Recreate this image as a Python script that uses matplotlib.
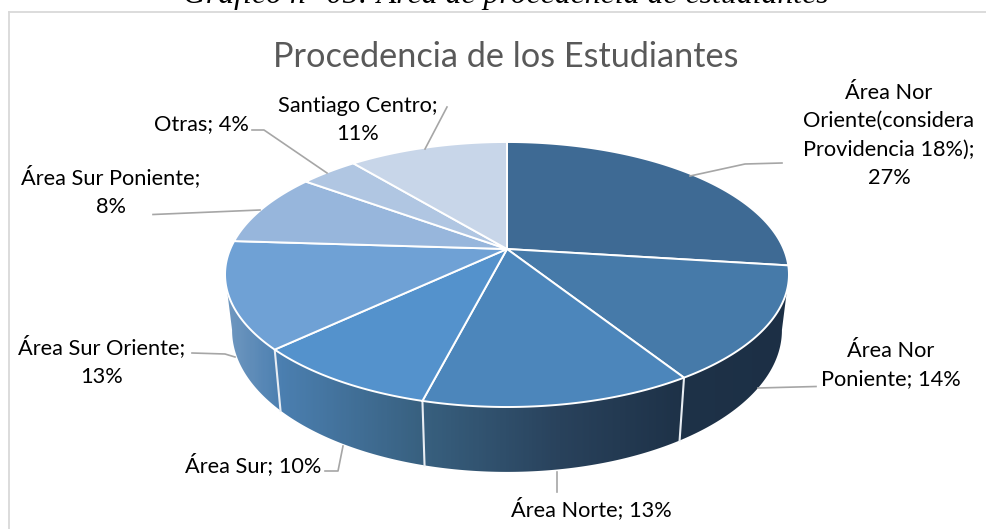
import numpy as np
import matplotlib
matplotlib.use('Agg')
import matplotlib.pyplot as plt
from matplotlib.patches import Polygon
from matplotlib.colors import LinearSegmentedColormap

categories = ['Área Nor Oriente', 'Área Nor Poniente', 'Área Norte', 'Área Sur',
              'Área Sur Oriente', 'Área Sur Poniente', 'Otras', 'Santiago Centro']
values = [27, 14, 13, 9, 13, 9, 4, 11]
colors = ['#3e6a94', '#467aa9', '#4c86bb', '#5492cc', '#6fa1d5', '#97b6dc', '#b0c6e2', '#c8d6e9']
wall_stops = [(225, '#7098c0'), (280, '#4b7fb0'), (423, '#38607f'), (560, '#29425c'), (680, '#1e3248'), (790, '#1c2f45')]

cx, cy = 507, 249
k = 0.1924
A = 127.6
B = 276.7


def top_xy(theta):
    # theta in degrees, clockwise from the top of the pie
    t = np.radians(theta)
    u, v = np.sin(t), -np.cos(t)
    return cx + B * u / (1 - k * v), cy + A * v / (1 - k * v)


def low_xy(theta):
    x, y = top_xy(theta)
    return cx + (x - cx) * 0.975, cy + (y - cy) * 1.069 + 54


fig = plt.figure(figsize=(9.87, 5.29), dpi=100)
ax = fig.add_axes([0, 0, 1, 1])
ax.set_xlim(0, 987)
ax.set_ylim(529, 0)
ax.axis('off')

# chart frame, runs off the image at the bottom and right
ax.plot([9, 9], [529, 12], color='#d9d9d9', lw=1.3)
ax.plot([9, 987], [12, 12], color='#d9d9d9', lw=1.3)

ax.text(506, 3, 'Gráfico n° 05: Área de procedencia de estudiantes', family='Liberation Serif',
        style='italic', fontsize=22.9, ha='center', va='baseline', color='black')
ax.text(506, 57, 'Procedencia de los Estudiantes', family='Lato', fontsize=24.7,
        ha='center', va='center', color='#595959')

edges = np.cumsum([0] + values) / sum(values) * 360

# side wall with one gradient across it
wall_t = np.linspace(101, 259, 200)
tx, ty = top_xy(wall_t)
lx, ly = low_xy(wall_t)
wall = Polygon(np.column_stack([np.r_[tx, lx[::-1]], np.r_[ty, ly[::-1]]]), closed=True, fc='none', ec='none')
ax.add_patch(wall)
stops = [((x - 225) / (790 - 225), c) for x, c in wall_stops]
cmap = LinearSegmentedColormap.from_list('wall', stops)
im = ax.imshow(np.linspace(0, 1, 300).reshape(1, -1), extent=[225, 790, 480, 240], cmap=cmap,
               aspect='auto', zorder=1)
im.set_clip_path(wall)
ax.set_xlim(0, 987)
ax.set_ylim(529, 0)

# separators on the wall
for e in edges:
    if 101 < e < 259:
        x0, y0 = top_xy(e)
        x1, y1 = low_xy(e)
        ax.plot([x0, x1], [y0, y1], color='#e8edf3', lw=1.5, zorder=2)

# top face
for i in range(len(values)):
    t = np.linspace(edges[i], edges[i + 1], 80)
    x, y = top_xy(t)
    pts = np.column_stack([np.r_[cx, x], np.r_[cy, y]])
    ax.add_patch(Polygon(pts, closed=True, fc=colors[i], ec='white', lw=1.4, zorder=3))

# data labels
label_style = dict(family='Lato', fontsize=15.7, ha='center', va='center', color='black',
                   linespacing=1.53, zorder=5)
ax.text(889, 135.5, 'Área Nor\nOriente(considera\nProvidencia 18%);\n27%', **label_style)
ax.text(891, 365, 'Área Nor\nPoniente; 14%', **label_style)
ax.text(591, 509, 'Área Norte; 13%', **label_style)
ax.text(253, 465, 'Área Sur; 10%', **label_style)
ax.text(102, 361, 'Área Sur Oriente;\n13%', **label_style)
ax.text(111, 191, 'Área Sur Poniente;\n8%', **label_style)
ax.text(201, 124, 'Otras; 4%', **label_style)
ax.text(358, 120, 'Santiago Centro;\n11%', **label_style)

# leader lines
leaders = [
    [(782, 163), (745, 164), (690, 176)],
    [(816, 386.5), (758, 388)],
    [(557, 472), (557, 492)],
    [(325, 471), (338, 471), (343, 446)],
    [(192, 353), (225, 354), (235, 357)],
    [(153, 214.5), (260, 210)],
    [(252, 130), (264, 130), (327, 173)],
    [(447, 107), (425, 149)],
]
for pts in leaders:
    xs, ys = zip(*pts)
    ax.plot(xs, ys, color='#a6a6a6', lw=1.2, zorder=4)

fig.savefig('out.png', dpi=100)
